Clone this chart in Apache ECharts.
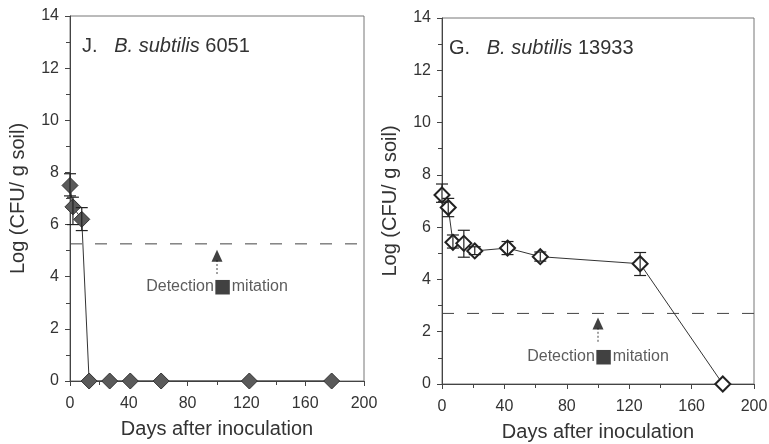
<!DOCTYPE html>
<html><head><meta charset="utf-8">
<script src="https://cdn.jsdelivr.net/npm/echarts@6/dist/echarts.min.js"></script>
<style>html,body{margin:0;padding:0;background:#fff}#c{width:769px;height:444px}</style>
</head><body><div id="c"></div><script>
// Panel J: B. subtilis 6051
const daysJ = [0, 2, 8, 13, 27, 41, 62, 122, 178];
const logJ = [7.5, 6.68, 6.2, 0, 0, 0, 0, 0, 0];
const errLowJ = [7.1, 6.0, 5.77, null, null, null, null, null, null];
const errHighJ = [7.95, 7.05, 6.65, null, null, null, null, null, null];
const detectJ = 5.26;
// Panel G: B. subtilis 13933
const daysG = [0, 4, 7, 14, 21, 42, 63, 127, 180];
const logG = [7.23, 6.75, 5.42, 5.38, 5.09, 5.2, 4.87, 4.6, 0];
const errLowG = [6.95, 6.4, 5.2, 4.85, 4.95, 4.95, 4.7, 4.15, null];
const errHighG = [7.65, 7.1, 5.7, 5.88, 5.25, 5.45, 5.05, 5.03, null];
const detectG = 2.7;
// annotation: arrow x, arrow middle, stem [top,bottom], label y
const noteX = [100, 100];
const arrowMid = [4.8, 2.31];
const stemTop = [4.64, 2.15];
const stemBottom = [4.07, 1.58];
const noteLabelY = [3.62, 1.04];
const xTicks = {min: 0, max: 200, interval: 40};
const yTicks = {min: 0, max: 14, interval: 2};
const titles = ['J.', 'G.'];
const strains = ['6051', '13933'];

const FONT = '"Liberation Sans", Arial, sans-serif';
const TXT = '#333';

function errItem(params, api) {
  const x = api.value(0), lo = api.value(1), hi = api.value(2);
  const p1 = api.coord([x, hi]), p2 = api.coord([x, lo]);
  const w = 6;
  const st = {stroke: '#222', lineWidth: 1.2};
  return {type: 'group', children: [
    {type: 'line', shape: {x1: p1[0], y1: p1[1], x2: p2[0], y2: p2[1]}, style: st},
    {type: 'line', shape: {x1: p1[0] - w, y1: p1[1], x2: p1[0] + w, y2: p1[1]}, style: st},
    {type: 'line', shape: {x1: p2[0] - w, y1: p2[1], x2: p2[0] + w, y2: p2[1]}, style: st}
  ]};
}

function xAxis(i) {
  return {gridIndex: i, type: 'value', min: xTicks.min, max: xTicks.max, interval: xTicks.interval,
    name: 'Days after inoculation', nameLocation: 'middle', nameGap: 38,
    nameTextStyle: {fontSize: 20, fontFamily: FONT, color: TXT},
    axisLine: {lineStyle: {color: '#444', width: 1}},
    axisTick: {show: true, inside: false, length: 5, lineStyle: {color: '#444'}},
    minorTick: {show: true, splitNumber: 2, length: 4, lineStyle: {color: '#444'}},
    axisLabel: {fontSize: 16, fontFamily: FONT, color: TXT, margin: 15},
    splitLine: {show: false}};
}
function yAxis(i) {
  return {gridIndex: i, type: 'value', min: yTicks.min, max: yTicks.max, interval: yTicks.interval,
    name: 'Log (CFU/ g soil)', nameLocation: 'middle', nameGap: 42,
    nameTextStyle: {fontSize: 20, fontFamily: FONT, color: TXT},
    axisLine: {show: true, lineStyle: {color: '#444', width: 1}},
    axisTick: {show: true, inside: false, length: 5, lineStyle: {color: '#444'}},
    minorTick: {show: true, splitNumber: 2, length: 4, lineStyle: {color: '#444'}},
    axisLabel: {fontSize: 16, fontFamily: FONT, color: TXT, margin: 11},
    splitLine: {show: false}};
}

function panelSeries(i, days, vals, lo, hi, det, filled) {
  const pts = days.map((d, k) => [d, vals[k]]);
  const errs = days.map((d, k) => lo[k] == null ? null : [d, lo[k], hi[k]]).filter(Boolean);
  return [
    {type: 'line', xAxisIndex: i, yAxisIndex: i, data: [[xTicks.min, det], [xTicks.max, det]],
      symbol: 'none', lineStyle: {color: '#444', width: 1, type: [12, 13]}, z: 1, silent: true},
    {type: 'line', xAxisIndex: i, yAxisIndex: i, data: pts, symbol: 'diamond', symbolSize: filled ? 16 : 15,
      lineStyle: {color: '#333', width: 1},
      itemStyle: filled ? {color: '#5a5a5a', borderColor: '#333', borderWidth: 1}
                        : {color: '#fff', borderColor: '#222', borderWidth: 2},
      z: 3},
    {type: 'custom', xAxisIndex: i, yAxisIndex: i, renderItem: errItem, data: errs,
      encode: {x: 0, y: [1, 2]}, z: 4},
    {type: 'line', xAxisIndex: i, yAxisIndex: i, data: [[noteX[i], stemTop[i]], [noteX[i], stemBottom[i]]],
      symbol: 'none', lineStyle: {color: '#444', width: 1, type: [2, 2]}, z: 2},
    {type: 'scatter', xAxisIndex: i, yAxisIndex: i, data: [[noteX[i], arrowMid[i]]], symbol: 'triangle',
      symbolSize: [11, 12], itemStyle: {color: '#111'}, z: 2},
    {type: 'scatter', xAxisIndex: i, yAxisIndex: i, data: [[noteX[i], noteLabelY[i]]], symbolSize: 0,
      label: {show: true, position: 'inside', formatter: 'Detection{sq|■}mitation',
        fontSize: 16, fontFamily: FONT, color: TXT,
        rich: {sq: {fontSize: 19, color: '#111', fontFamily: 'DejaVu Sans'}}}, z: 2}
  ];
}

const chart = echarts.init(document.getElementById('c'), null, {renderer: 'canvas'});
chart.setOption({
  animation: false,
  backgroundColor: '#fff',
  title: [0, 1].map(i => ({
    left: i === 0 ? 77 : 444, top: i === 0 ? 31 : 33,
    text: titles[i] + '   {i|B. subtilis} ' + strains[i],
    textStyle: {fontSize: 20, fontFamily: FONT, color: TXT, fontWeight: 'normal',
      rich: {i: {fontSize: 20, fontFamily: FONT, color: TXT, fontStyle: 'italic'}}}
  })),
  grid: [
    {left: 70, top: 16, width: 294, height: 365, show: true, borderColor: '#777', borderWidth: 1,
      containLabel: false, outerBoundsMode: 'none'},
    {left: 442, top: 18, width: 312, height: 366, show: true, borderColor: '#777', borderWidth: 1,
      containLabel: false, outerBoundsMode: 'none'}
  ],
  xAxis: [xAxis(0), xAxis(1)],
  yAxis: [yAxis(0), yAxis(1)],
  series: [].concat(
    panelSeries(0, daysJ, logJ, errLowJ, errHighJ, detectJ, true),
    panelSeries(1, daysG, logG, errLowG, errHighG, detectG, false)
  )
});
</script></body></html>
